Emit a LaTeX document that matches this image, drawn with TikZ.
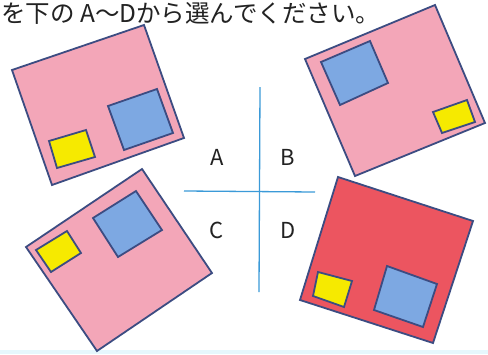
\documentclass[tikz,border=0pt]{standalone}
\usepackage{fontspec}
\setmainfont{Noto Sans CJK JP}
\definecolor{pinkfill}{HTML}{F3A6B8}
\definecolor{redfill}{HTML}{EC5560}
\definecolor{bluefill}{HTML}{7DA8E2}
\definecolor{yellowfill}{HTML}{F6EA00}
\definecolor{edge}{HTML}{3C4C82}
\definecolor{crossline}{HTML}{3B9AD8}
\definecolor{txt}{HTML}{222222}
\tikzset{
  card/.style={draw=edge, line width=1.8pt, line join=miter},
  letter/.style={font=\fontsize{22}{22}\selectfont, text=txt, inner sep=0pt},
  crossstyle/.style={draw=crossline, line width=1.3pt}
}
\begin{document}
\begin{tikzpicture}[x=1pt,y=-1pt]
\useasboundingbox (0,0) rectangle (488,354);
\fill[white] (0,0) rectangle (488,354);
\fill[cyan!10] (0,350) rectangle (488,354);
% title
\node[anchor=west, inner sep=0pt, text=txt, font=\fontsize{24.5}{25}\selectfont] (title) at (1,13) {を下の A～Dから選んでください。};
% A
\filldraw[card, fill=pinkfill] (12,70) -- (144,25) -- (184,138) -- (52,185) -- cycle;
\filldraw[card, fill=bluefill] (108,106) -- (157,89) -- (173,133) -- (124,150) -- cycle;
\filldraw[card, fill=yellowfill] (49,141) -- (86,130) -- (95,157) -- (57,168) -- cycle;
% B
\filldraw[card, fill=pinkfill] (305,59) -- (435,5) -- (485,123) -- (355,176) -- cycle;
\filldraw[card, fill=bluefill] (321,62) -- (370,41) -- (388,83) -- (340,105) -- cycle;
\filldraw[card, fill=yellowfill] (433,112) -- (467,100) -- (475,122) -- (442,133) -- cycle;
% C
\filldraw[card, fill=pinkfill] (26,247) -- (142,169) -- (212,273) -- (97,351) -- cycle;
\filldraw[card, fill=bluefill] (93,218) -- (136,191) -- (162,230) -- (118,257) -- cycle;
\filldraw[card, fill=yellowfill] (36,250) -- (67,231) -- (81,253) -- (51,272) -- cycle;
% D
\filldraw[card, fill=redfill] (338,177) -- (473,221) -- (433,343) -- (300,300) -- cycle;
\filldraw[card, fill=bluefill] (387,266) -- (437,284) -- (423,327) -- (374,310) -- cycle;
\filldraw[card, fill=yellowfill] (318,272) -- (352,281) -- (344,307) -- (313,296) -- cycle;
% cross
\coordinate (vt) at (260,87);
\coordinate (vb) at (259,292);
\coordinate (hl) at (184,191);
\coordinate (hr) at (315,192);
\draw[crossstyle] (vt) -- (vb);
\draw[crossstyle] (hl) -- (hr);
\node[letter] (la) at (217,157) {A};
\node[letter] (lb) at (288,157) {B};
\node[letter] (lc) at (217,230) {C};
\node[letter] (ld) at (288,230) {D};
\end{tikzpicture}
\end{document}
